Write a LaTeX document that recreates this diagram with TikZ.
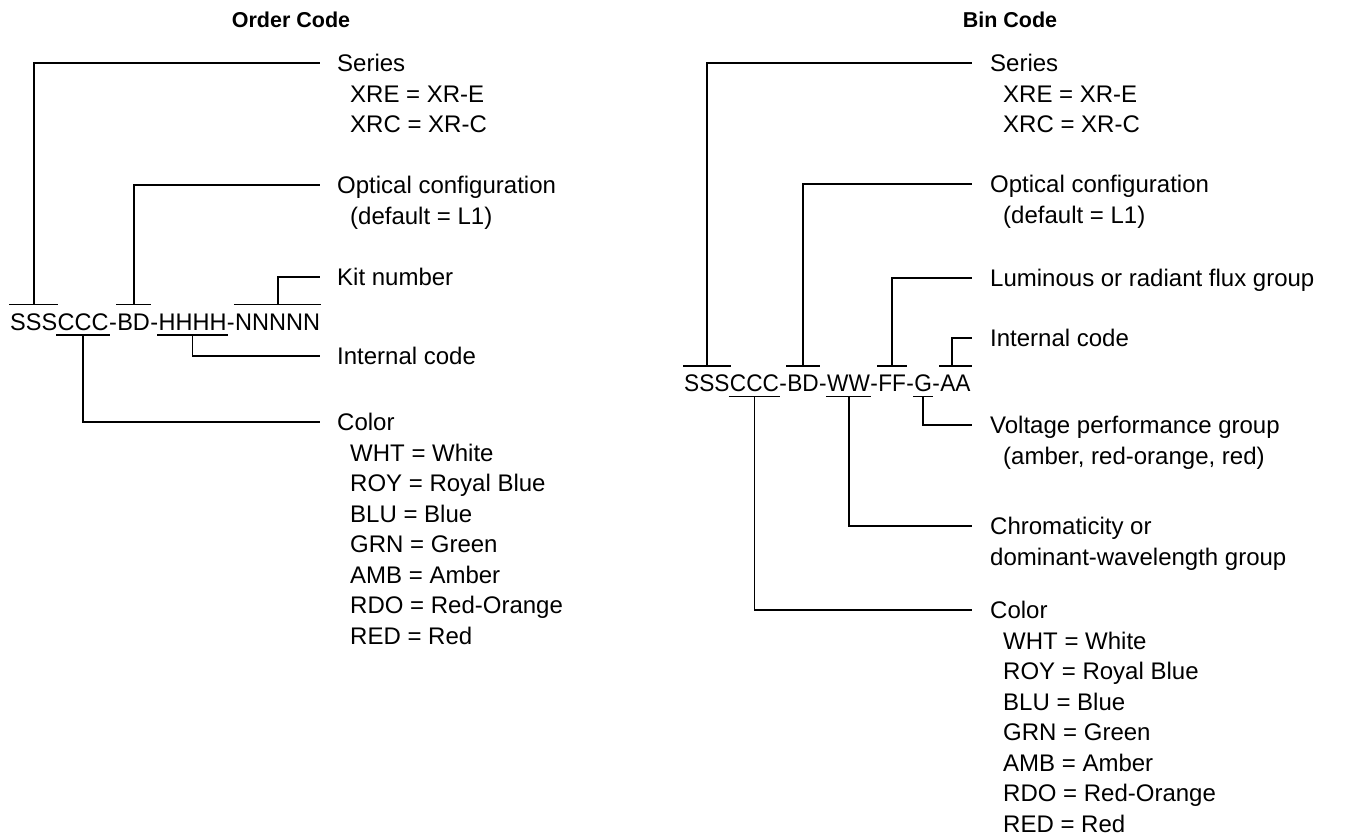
\documentclass[tikz,border=0pt]{standalone}
\usepackage{graphicx}
\usepackage{fontspec}
\setmainfont{Liberation Sans}
\newcommand{\lcseg}[1]{\scalebox{0.98}[1]{#1}}
\newcommand{\rcseg}[1]{\scalebox{0.944}[1]{#1}}
\tikzset{
  lbl/.style={anchor=west, inner sep=0pt, text height=17pt, text depth=0pt, font=\fontsize{24}{29}\selectfont},
  seg/.style={anchor=base west, inner sep=0pt, font=\fontsize{24}{29}\selectfont},
  ttl/.style={anchor=center, inner sep=0pt, font=\fontsize{21.5}{26}\selectfont\bfseries},
  conn/.style={line width=1.9pt, line cap=butt},
  bar/.style={line width=1.9pt}
}
\begin{document}
\begin{tikzpicture}[x=1pt,y=-1pt]
\useasboundingbox (0,0) rectangle (1354,838);
% titles
\node[ttl] (t1) at (291,20) {Order Code};
\node[ttl] (t2) at (1010,20) {Bin Code};
% ---------------- left: order code
\node[seg] (s1) at (10,330) {\lcseg{SSS}};
\node[seg] (c1) at (s1.base east) {\lcseg{CCC}};
\node[seg] (m1) at (c1.base east) {\lcseg{-}};
\node[seg] (b1) at (m1.base east) {\lcseg{BD}};
\node[seg] (m2) at (b1.base east) {\lcseg{-}};
\node[seg] (h1) at (m2.base east) {\lcseg{HHHH}};
\node[seg] (m3) at (h1.base east) {\lcseg{-}};
\node[seg] (n1) at (m3.base east) {\lcseg{NNNNN}};
\coordinate (ob) at (0,304.5);
\coordinate (ub) at (0,335);
\foreach \n in {s1,b1,n1} \draw[bar] ([xshift=-1pt]\n.west |- ob) -- ([xshift=1pt]\n.east |- ob);
\foreach \n in {c1,h1} \draw[bar] ([xshift=-1pt]\n.west |- ub) -- ([xshift=1pt]\n.east |- ub);
% labels left
\node[lbl] (lser) at (337,63) {Series};
\node[lbl] (lser1) at (350,93.5) {XRE = XR-E};
\node[lbl] (lser2) at (350,124) {XRC = XR-C};
\node[lbl] (lopt) at (337,185) {Optical configuration};
\node[lbl] (lopt1) at (350,215.5) {(default = L1)};
\node[lbl] (lkit) at (337,277) {Kit number};
\node[lbl] (lint) at (337,356) {Internal code};
\node[lbl] (lcol) at (337,422) {Color};
\foreach \t [count=\i] in {WHT = White, ROY = Royal Blue, BLU = Blue, GRN = Green, AMB = Amber, RDO = Red-Orange, RED = Red}
  \node[lbl] (lcol\i) at (350,422+30.5*\i) {\t};
% connectors left
\draw[conn] (s1 |- ob) |- ([xshift=-17pt]lser.west);
\draw[conn] (b1 |- ob) |- ([xshift=-17pt]lopt.west);
\draw[conn] (n1 |- ob) |- ([xshift=-17pt]lkit.west);
\draw[conn] (h1 |- ub) |- ([xshift=-17pt]lint.west);
\draw[conn] (c1 |- ub) |- ([xshift=-17pt]lcol.west);
% ---------------- right: bin code
\node[seg] (s2) at (684,391) {\rcseg{SSS}};
\node[seg] (c2) at (s2.base east) {\rcseg{CCC}};
\node[seg] (p1) at (c2.base east) {\rcseg{-}};
\node[seg] (b2) at (p1.base east) {\rcseg{BD}};
\node[seg] (p2) at (b2.base east) {\rcseg{-}};
\node[seg] (w2) at (p2.base east) {\rcseg{WW}};
\node[seg] (p3) at (w2.base east) {\rcseg{-}};
\node[seg] (f2) at (p3.base east) {\rcseg{FF}};
\node[seg] (p4) at (f2.base east) {\rcseg{-}};
\node[seg] (g2) at (p4.base east) {\rcseg{G}};
\node[seg] (p5) at (g2.base east) {\rcseg{-}};
\node[seg] (a2) at (p5.base east) {\rcseg{AA}};
\coordinate (ob2) at (0,366);
\coordinate (ub2) at (0,396.5);
\foreach \n in {s2,b2,f2,a2} \draw[bar] ([xshift=-1pt]\n.west |- ob2) -- ([xshift=1pt]\n.east |- ob2);
\foreach \n in {c2,w2,g2} \draw[bar] ([xshift=-1pt]\n.west |- ub2) -- ([xshift=1pt]\n.east |- ub2);
% labels right
\node[lbl] (rser) at (990,63) {Series};
\node[lbl] (rser1) at (1003,93.5) {XRE = XR-E};
\node[lbl] (rser2) at (1003,124) {XRC = XR-C};
\node[lbl] (ropt) at (990,184) {Optical configuration};
\node[lbl] (ropt1) at (1003,214.5) {(default = L1)};
\node[lbl] (rflx) at (990,278) {Luminous or radiant flux group};
\node[lbl] (rint) at (990,338) {Internal code};
\node[lbl] (rvol) at (990,425) {Voltage performance group};
\node[lbl] (rvol1) at (1003,455.5) {(amber, red-orange, red)};
\node[lbl] (rchr) at (990,526) {Chromaticity or};
\node[lbl] (rchr1) at (990,556.5) {dominant-wavelength group};
\node[lbl] (rcol) at (990,610) {Color};
\foreach \t [count=\i] in {WHT = White, ROY = Royal Blue, BLU = Blue, GRN = Green, AMB = Amber, RDO = Red-Orange, RED = Red}
  \node[lbl] (rcol\i) at (1003,610+30.5*\i) {\t};
% connectors right
\draw[conn] (s2 |- ob2) |- ([xshift=-18pt]rser.west);
\draw[conn] (b2 |- ob2) |- ([xshift=-18pt]ropt.west);
\draw[conn] (f2 |- ob2) |- ([xshift=-18pt]rflx.west);
\draw[conn] ([xshift=-3pt]a2.center |- ob2) |- ([xshift=-18pt]rint.west);
\draw[conn] (g2 |- ub2) |- ([xshift=-18pt]rvol.west);
\draw[conn] (w2 |- ub2) |- ([xshift=-18pt]rchr.west);
\draw[conn] (c2 |- ub2) |- ([xshift=-18pt]rcol.west);
\end{tikzpicture}
\end{document}
